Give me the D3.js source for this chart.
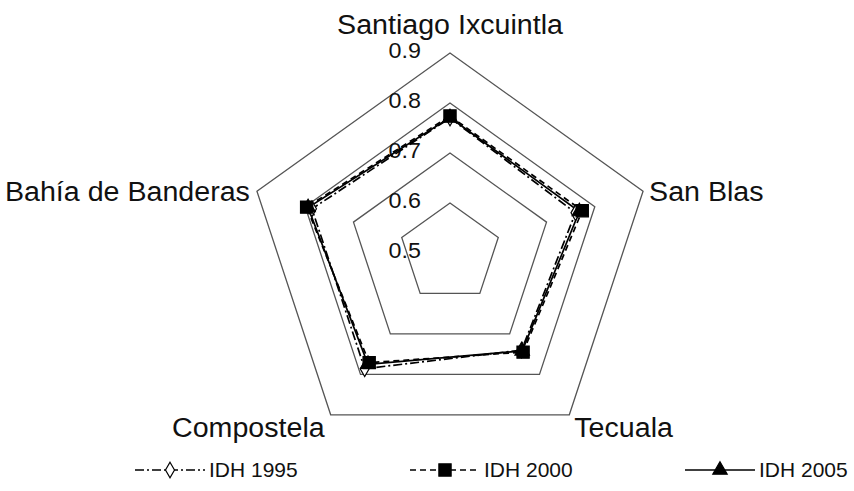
<!DOCTYPE html>
<html>
<head>
<meta charset="utf-8">
<script src="https://cdn.jsdelivr.net/npm/d3@7"></script>
<style>
  html, body { margin: 0; padding: 0; background: #fff; }
  svg { display: block; font-family: "Liberation Sans", Arial, sans-serif; }
</style>
</head>
<body>
<svg id="chart" width="854" height="491"></svg>
<script>
// Municipalities on the radar axes (clockwise from the top)
const categories = ["Santiago Ixcuintla", "San Blas", "Tecuala", "Compostela", "Bahía de Banderas"];
// Human development index per municipality
const idh1995 = [0.770, 0.760, 0.740, 0.786, 0.786];
const idh2000 = [0.774, 0.774, 0.745, 0.771, 0.797];
const idh2005 = [0.771, 0.768, 0.742, 0.775, 0.794];
const seriesNames = ["IDH 1995", "IDH 2000", "IDH 2005"];
// Radial axis ticks
const tickValues = [0.5, 0.6, 0.7, 0.8, 0.9];

const svg = d3.select("#chart");
const cx = 450, cy = 253, R = 200, kx = 1.015;
const textStretch = 1.06;

const r = d3.scaleLinear().domain([0.5, 0.9]).range([0, R]);
const angle = d3.scalePoint().domain(categories).range([0, 2 * Math.PI * (categories.length - 1) / categories.length]);

const pt = (cat, v) => {
  const a = angle(cat);
  return [cx + r(v) * Math.sin(a) * kx, cy - r(v) * Math.cos(a)];
};

// Places a slightly widened text label with its anchor at (x, y)
function label(parent, x, y, txt, size, anchor, stretch) {
  parent.append("g")
    .attr("transform", `translate(${x},${y}) scale(${stretch},1)`)
    .append("text")
    .attr("text-anchor", anchor)
    .attr("font-size", size)
    .attr("fill", "#111")
    .text(txt);
}

// Grid pentagons
const gridG = svg.append("g");
tickValues.filter(t => t > 0.5).forEach(t => {
  gridG.append("polygon")
    .attr("points", categories.map(c => pt(c, t).join(",")).join(" "))
    .attr("fill", "none")
    .attr("stroke", "#555")
    .attr("stroke-width", 1.3);
});

// Radial tick labels
const tickG = svg.append("g");
tickValues.forEach(t => label(tickG, cx - 29, cy - r(t) + 5, d3.format(".1f")(t), 22, "end", textStretch));

// Category labels
const catLabel = [
  {dx: 0, dy: -19, anchor: "middle"},
  {dx: 6, dy: 10, anchor: "start"},
  {dx: 5, dy: 22, anchor: "start"},
  {dx: -6, dy: 22, anchor: "end"},
  {dx: -7, dy: 10, anchor: "end"}
];
const catG = svg.append("g");
categories.forEach((c, i) => {
  const p = pt(c, 0.9);
  label(catG, p[0] + catLabel[i].dx, p[1] + catLabel[i].dy, c, 27, catLabel[i].anchor, textStretch);
});

// Series
const series = [
  {name: seriesNames[0], values: idh1995, dash: "9,3,2,3", marker: "diamond"},
  {name: seriesNames[1], values: idh2000, dash: "6,4", marker: "square"},
  {name: seriesNames[2], values: idh2005, dash: null, marker: "triangle"}
];
const symbolFor = m => m === "diamond" ? d3.symbolDiamond : m === "square" ? d3.symbolSquare : d3.symbolTriangle;
const symbolSize = m => m === "diamond" ? 70 : m === "square" ? 150 : 90;
const symbolFill = m => m === "diamond" ? "#fff" : "#000";

const line = d3.line().curve(d3.curveLinearClosed);
series.forEach(s => {
  const pts = categories.map((c, i) => pt(c, s.values[i]));
  svg.append("path")
    .attr("d", line(pts))
    .attr("fill", "none")
    .attr("stroke", "#000")
    .attr("stroke-width", 1.7)
    .attr("stroke-dasharray", s.dash);
});
series.forEach(s => {
  const pts = categories.map((c, i) => pt(c, s.values[i]));
  svg.append("g").selectAll("path").data(pts).join("path")
    .attr("transform", d => `translate(${d[0]},${d[1]})`)
    .attr("d", d3.symbol(symbolFor(s.marker), symbolSize(s.marker)))
    .attr("fill", symbolFill(s.marker))
    .attr("stroke", "#000")
    .attr("stroke-width", 1.2);
});

// Legend
const legendX = d3.scalePoint().domain(seriesNames).range([135, 685]);
const legendLine = 70;
const lg = svg.append("g").selectAll("g").data(series).join("g")
  .attr("transform", d => `translate(${legendX(d.name)},470)`);
lg.append("line")
  .attr("x1", 0).attr("x2", legendLine).attr("y1", 0).attr("y2", 0)
  .attr("stroke", "#000").attr("stroke-width", 1.7)
  .attr("stroke-dasharray", d => d.dash);
lg.append("path")
  .attr("transform", `translate(${legendLine / 2},0)`)
  .attr("d", d => d3.symbol(symbolFor(d.marker), symbolSize(d.marker))())
  .attr("fill", d => symbolFill(d.marker))
  .attr("stroke", "#000").attr("stroke-width", 1.2);
lg.each(function(d) {
  label(d3.select(this), legendLine + 4, 7, d.name, 20, "start", 1.05);
});
</script>
</body>
</html>
